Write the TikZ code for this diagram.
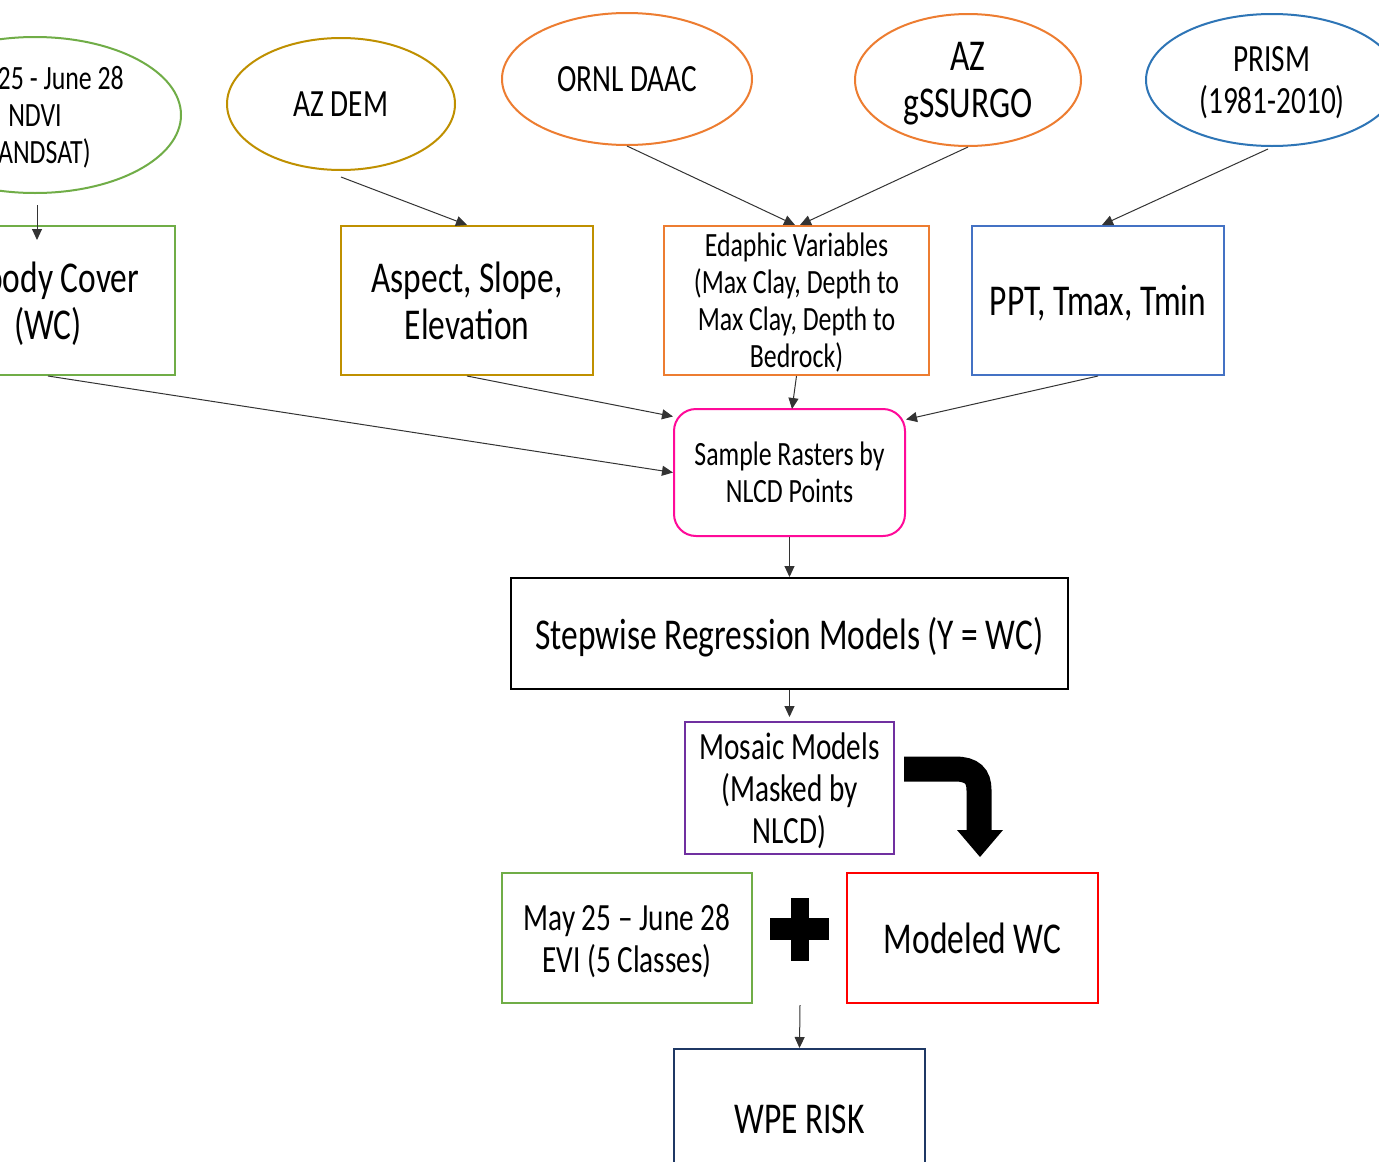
\documentclass[tikz,border=0pt]{standalone}
\usepackage{fontspec}
\setmainfont[FakeStretch=0.76]{Carlito}
\usetikzlibrary{shapes.geometric,arrows.meta}
\definecolor{cgreen}{HTML}{70AD47}
\definecolor{cgold}{HTML}{BF9000}
\definecolor{corange}{HTML}{ED7D31}
\definecolor{cblueA}{HTML}{2E75B6}
\definecolor{cblueB}{HTML}{4472C4}
\definecolor{cmagenta}{HTML}{FF0A99}
\definecolor{cpurple}{HTML}{7030A0}
\definecolor{cred}{HTML}{FF0000}
\definecolor{cnavy}{HTML}{1F3864}
\definecolor{cline}{HTML}{333333}
\tikzset{
  bigtxt/.style={font=\fontsize{44}{47}\selectfont},
  midtxt/.style={font=\fontsize{38.5}{42}\selectfont},
  smalltxt/.style={font=\fontsize{34}{37}\selectfont},
  boxnode/.style={draw, line width=2pt, align=center, inner sep=0pt, fill=white, text depth=0pt},
  ellnode/.style={ellipse, draw, line width=2pt, align=center, inner sep=0pt, fill=white, text depth=0pt},
  conn/.style={draw=cline, line width=1pt, -{Triangle[length=11pt,width=10pt]}},
}
\begin{document}
\begin{tikzpicture}[x=1pt,y=-1pt]
\useasboundingbox (0,0) rectangle (1379,1162);
\clip (0,0) rectangle (1379,1162);
\fill[white] (0,0) rectangle (1379,1162);

% top ellipses
\node[ellnode, draw=cgreen, smalltxt, minimum width=292pt, minimum height=156pt] (ndvi) at (35,115) {May 25 - June 28\\NDVI\\(LANDSAT)};
\node[ellnode, draw=cgold, midtxt, minimum width=228pt, minimum height=132pt] (azdem) at (341,104) {AZ DEM};
\node[ellnode, draw=corange, midtxt, minimum width=250pt, minimum height=132pt] (ornl) at (627,79) {ORNL DAAC};
\node[ellnode, draw=corange, bigtxt, minimum width=226pt, minimum height=132pt] (gss) at (968,80) {AZ\\gSSURGO};
\node[ellnode, draw=cblueA, midtxt, minimum width=252pt, minimum height=132pt] (prism) at (1272,80) {PRISM\\(1981-2010)};

% second row boxes
\node[boxnode, draw=cgreen, bigtxt, minimum width=254pt, minimum height=149pt] (wc) at (48,300.5) {Woody Cover\\(WC)};
\node[boxnode, draw=cgold, bigtxt, minimum width=252pt, minimum height=149pt] (aspect) at (467,300.5) {Aspect, Slope,\\Elevation};
\node[boxnode, draw=corange, smalltxt, minimum width=265pt, minimum height=149pt] (edaphic) at (796.5,300.5) {Edaphic Variables\\(Max Clay, Depth to\\Max Clay, Depth to\\Bedrock)};
\node[boxnode, draw=cblueB, bigtxt, minimum width=252pt, minimum height=149pt] (ppt) at (1098,300.5) {PPT, Tmax, Tmin};

% sample
\node[boxnode, draw=cmagenta, smalltxt, rounded corners=22pt, minimum width=231pt, minimum height=127pt] (sample) at (789.5,472.5) {Sample Rasters by\\NLCD Points};

% stepwise
\node[boxnode, draw=black, bigtxt, minimum width=557pt, minimum height=111pt] (step) at (789.5,633.5) {Stepwise Regression Models (Y = WC)};

% mosaic
\node[boxnode, draw=cpurple, midtxt, minimum width=209pt, minimum height=132pt] (mosaic) at (789.5,788) {Mosaic Models\\(Masked by\\NLCD)};

% evi & modeled
\node[boxnode, draw=cgreen, midtxt, minimum width=250pt, minimum height=130pt] (evi) at (627,938) {May 25 -- June 28\\EVI (5 Classes)};
\node[boxnode, draw=cred, bigtxt, minimum width=251pt, minimum height=130pt] (mwc) at (972.5,938) {Modeled WC};

% wpe
\node[boxnode, draw=cnavy, bigtxt, minimum width=251pt, minimum height=140pt] (wpe) at (799.5,1119) {WPE RISK};

% free-end coordinates
\coordinate (ndvistart) at (37,205);
\coordinate (ndvitip) at (37,240);
\coordinate (plusbot) at (800,1005);

% connectors
\draw[conn] (ndvistart) -- (ndvitip);
\draw[conn] ([yshift=-6pt]azdem.south) -- (aspect.north);
\draw[conn] (ornl.south) -- ([xshift=-1.5pt]edaphic.north);
\draw[conn] (gss.south) -- ([xshift=3.5pt]edaphic.north);
\draw[conn] ([xshift=-4pt,yshift=-2pt]prism.south) -- ([xshift=4pt]ppt.north);
\draw[conn] (wc.south) -- (sample.west);
\draw[conn] (aspect.south) -- ([yshift=56pt]sample.west);
\draw[conn] (edaphic.south) -- ([xshift=2.5pt,yshift=-1pt]sample.north);
\draw[conn] (ppt.south) -- ([yshift=53pt]sample.east);
\draw[conn] (sample.south) -- (step.north);
\draw[conn] (step.south) -- ([yshift=4pt]mosaic.north);
\draw[conn] (plusbot) -- (wpe.north);

% plus sign
\fill[black] (790.5,898) rectangle (808.5,961);
\fill[black] (770,918) rectangle (829,940);

% bent block arrow
\draw[line width=25pt, black] (904,769) -- (955,769) .. controls (972,769) and (979,776) .. (979,790) -- (979,831);
\fill[black] (957,830) -- (1003,830) -- (980,857) -- cycle;
\end{tikzpicture}
\end{document}
